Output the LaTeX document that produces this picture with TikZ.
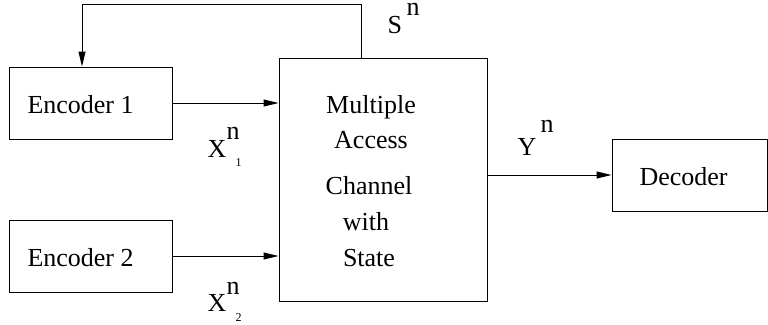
\documentclass[tikz,border=0pt]{standalone}
\usepackage{fontspec}
\setmainfont{Liberation Serif}
\newfontfamily\tmsfont{Liberation Serif}
\usetikzlibrary{arrows.meta}
\begin{document}
\begin{tikzpicture}[x=1pt,y=-1pt,line width=1pt,
  blk/.style={draw,rectangle,inner sep=0pt},
  txt/.style={inner sep=0pt,font=\tmsfont\fontsize{26}{30}\selectfont},
  sub/.style={inner sep=0pt,font=\tmsfont\fontsize{12}{14}\selectfont},
  arr/.style={-{Triangle[length=15pt,width=7pt]}}]
\useasboundingbox (0,0) rectangle (768,324);
% blocks
\node[blk,minimum width=163pt,minimum height=72pt] (enc1) at (90.5,103) {};
\node[blk,minimum width=163pt,minimum height=72pt] (enc2) at (90.5,256) {};
\node[blk,minimum width=208pt,minimum height=243pt] (mac) at (383,179.5) {};
\node[blk,minimum width=155pt,minimum height=72pt] (dec) at (689.5,175) {};
% block texts
\node[txt,anchor=base west] (t1) at (27,113) {Encoder 1};
\node[txt,anchor=base west] (t2) at (27,266) {Encoder 2};
\node[txt,anchor=base west] (t3) at (639,185) {Decoder};
\node[txt,anchor=base] (m1) at (371,113) {Multiple};
\node[txt,anchor=base] (m2) at (371,148) {Access};
\node[txt,anchor=base] (m3) at (369,194) {Channel};
\node[txt,anchor=base] (m4) at (366,230) {with};
\node[txt,anchor=base] (m5) at (369,266) {State};
% connectors
\coordinate (c1) at (361,4);
\coordinate (c2) at (82,4);
\draw[arr] (mac.north -| c1) -- (c1) -- (c2) -- (enc1.north -| c2);
\draw[arr] (enc1.east) -- (mac.west |- enc1.east);
\draw[arr] (enc2.east) -- (mac.west |- enc2.east);
\draw[arr] (mac.east |- dec.west) -- (dec.west);
% labels
\node[txt,anchor=base west] (s) at (387,33) {S};
\node[txt,anchor=base west] (sn) at (406,15.5) {n};
\node[txt,anchor=base west] (x1) at (207,157) {X};
\node[txt,anchor=base west] (x1n) at (226,139) {n};
\node[sub,anchor=base west] (x1s) at (235,166) {1};
\node[txt,anchor=base west] (x2) at (207,311) {X};
\node[txt,anchor=base west] (x2n) at (226,294) {n};
\node[sub,anchor=base west] (x2s) at (235,321) {2};
\node[txt,anchor=base west] (y) at (517,155) {Y};
\node[txt,anchor=base west] (yn) at (540,132) {n};
\end{tikzpicture}
\end{document}
